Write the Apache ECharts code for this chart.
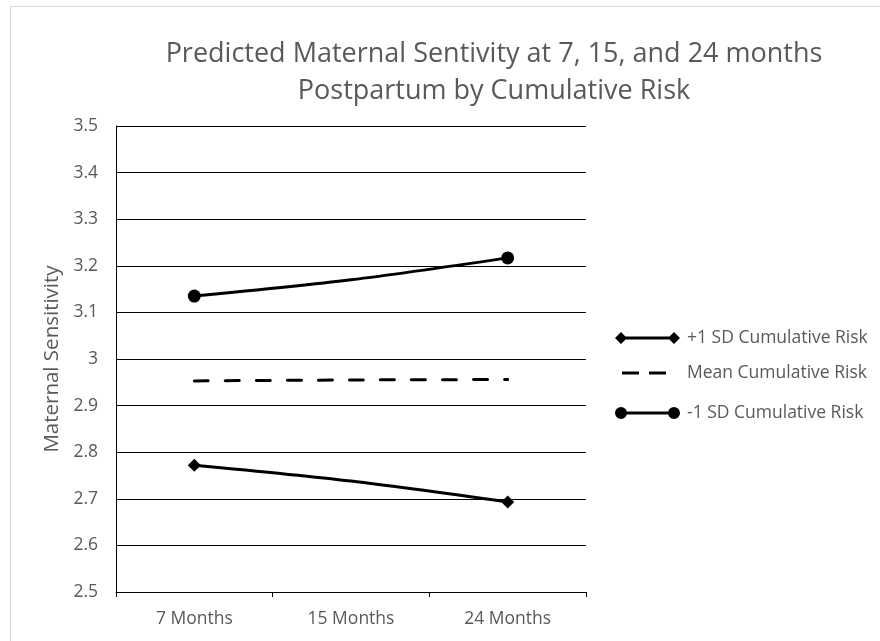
<!DOCTYPE html>
<html>
<head>
<meta charset="utf-8">
<script src="https://cdn.jsdelivr.net/npm/echarts@6/dist/echarts.min.js"></script>
<style>html,body{margin:0;padding:0;background:#fff;}#c{width:880px;height:641px;}</style>
</head>
<body>
<div id="c"></div>
<script>
var categories = ['7 Months', '15 Months', '24 Months'];
var seriesNames = ['+1 SD Cumulative Risk', 'Mean Cumulative Risk', '-1 SD Cumulative Risk'];
var plusOneSD = [2.772, 2.738, 2.693];
var meanRisk = [2.953, 2.955, 2.956];
var minusOneSD = [3.135, 3.170, 3.217];
var yTicks = {min: 2.5, max: 3.5, interval: 0.1};

var FONT = 'Open Sans';
var GREY = '#595959';

function pts(arr) {
  return arr.map(function (v, i) {
    return i === 1 ? {value: v, symbol: 'none'} : v;
  });
}

var diamondIcon = 'path://M0,6 L6,0 L12,6 L6,12 Z M53,6 L59,0 L65,6 L59,12 Z M6,4.5 L59,4.5 L59,7.5 L6,7.5 Z';
var circleIcon = 'path://M0,6 A6,6 0 1,1 12,6 A6,6 0 1,1 0,6 Z M53,6 A6,6 0 1,1 65,6 A6,6 0 1,1 53,6 Z M6,4.5 L59,4.5 L59,7.5 L6,7.5 Z';
var dashIcon = 'path://M0,0 L17,0 L17,3 L0,3 Z M27,0 L44,0 L44,3 L27,3 Z';

var chart = echarts.init(document.getElementById('c'));
chart.setOption({
  animation: false,
  backgroundColor: '#fff',
  graphic: [{
    type: 'rect', silent: true, z: -1,
    shape: {x: 10.5, y: 6.5, width: 900, height: 700},
    style: {fill: 'none', stroke: '#d9d9d9', lineWidth: 1}
  }],
  title: {
    text: 'Predicted Maternal Sentivity at 7, 15, and 24 months\nPostpartum by Cumulative Risk',
    left: 494, top: 36, textAlign: 'center', padding: 0,
    textStyle: {fontFamily: FONT, fontSize: 27, fontWeight: 'normal', color: GREY, lineHeight: 37}
  },
  legend: [
    {data: [{name: seriesNames[0], icon: diamondIcon}], left: 615, top: 329, padding: 0,
     itemWidth: 65, itemHeight: 12, itemGap: 0,
     textStyle: {fontFamily: FONT, fontSize: 17.5, color: GREY, padding: [0, 0, 0, 2]}},
    {data: [{name: seriesNames[1], icon: dashIcon}], left: 622, top: 364, padding: 0,
     itemWidth: 44, itemHeight: 3, itemGap: 0,
     textStyle: {fontFamily: FONT, fontSize: 17.5, color: GREY, padding: [0, 0, 0, 16]}},
    {data: [{name: seriesNames[2], icon: circleIcon}], left: 615, top: 404, padding: 0,
     itemWidth: 65, itemHeight: 12, itemGap: 0,
     textStyle: {fontFamily: FONT, fontSize: 17.5, color: GREY, padding: [0, 0, 0, 2]}}
  ],
  grid: {left: 116, right: 294, top: 126, bottom: 49, containLabel: false},
  xAxis: {
    type: 'category',
    data: categories,
    boundaryGap: true,
    axisLine: {lineStyle: {color: '#000', width: 1}},
    axisTick: {show: true, length: 5, inside: false, lineStyle: {color: '#000'}},
    axisLabel: {fontFamily: FONT, fontSize: 17.5, color: GREY, margin: 18},
    splitLine: {show: false}
  },
  yAxis: {
    type: 'value',
    min: yTicks.min, max: yTicks.max, interval: yTicks.interval,
    name: 'Maternal Sensitivity',
    nameLocation: 'middle',
    nameGap: 50,
    nameTextStyle: {fontFamily: FONT, fontSize: 20.5, color: GREY},
    axisLine: {show: true, lineStyle: {color: '#000', width: 1}},
    axisTick: {show: false},
    axisLabel: {fontFamily: FONT, fontSize: 17.5, color: GREY, margin: 18,
      formatter: function (v) { return String(Math.round(v * 10) / 10); }},
    splitLine: {show: true, lineStyle: {color: '#000', width: 1}}
  },
  series: [
    {name: seriesNames[0], type: 'line', data: pts(plusOneSD), smooth: 0.3,
     symbol: 'diamond', symbolSize: 13, showSymbol: true,
     itemStyle: {color: '#000'}, lineStyle: {color: '#000', width: 3}},
    {name: seriesNames[1], type: 'line', data: meanRisk.map(function (v) { return {value: v, symbol: 'none'}; }), smooth: 0.3,
     symbol: 'none',
     itemStyle: {color: '#000'}, lineStyle: {color: '#000', width: 3, type: [14, 17], cap: 'round'}},
    {name: seriesNames[2], type: 'line', data: pts(minusOneSD), smooth: 0.3,
     symbol: 'circle', symbolSize: 13, showSymbol: true,
     itemStyle: {color: '#000'}, lineStyle: {color: '#000', width: 3}}
  ]
});
</script>
</body>
</html>
